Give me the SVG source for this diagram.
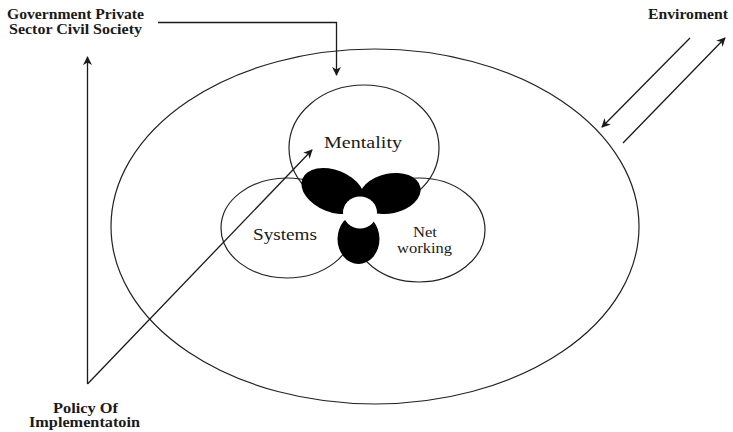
<svg xmlns="http://www.w3.org/2000/svg" width="733" height="432" viewBox="0 0 733 432">
<style>
.ln{fill:none;stroke:#1a1a1a;stroke-width:1.3}
.sh{fill:none;stroke:#222;stroke-width:1.2}
.lb{font-family:"Liberation Serif",serif;font-weight:bold;fill:#1a1a1a}
.tx{font-family:"Liberation Serif",serif;fill:#1a1a1a}
</style>
<defs>
<marker id="ah" viewBox="0 0 10 10" refX="9" refY="5" markerWidth="9" markerHeight="9" markerUnits="userSpaceOnUse" orient="auto">
<path d="M0,0 L10,5 L0,10 L3,5 z" fill="#1a1a1a"/>
</marker>
</defs>
<rect width="733" height="432" fill="#fff"/>
<g id="environment-boundary">
<ellipse class="sh" cx="375" cy="226.5" rx="264" ry="177.5"/>
</g>
<g id="mentality">
<ellipse class="sh" cx="364" cy="148" rx="75" ry="63"/>
<text class="tx" x="324" y="148" font-size="17" textLength="78" lengthAdjust="spacingAndGlyphs">Mentality</text>
</g>
<g id="systems">
<ellipse class="sh" cx="287" cy="228" rx="66" ry="50"/>
<text class="tx" x="253" y="240" font-size="17" textLength="64" lengthAdjust="spacingAndGlyphs">Systems</text>
</g>
<g id="networking">
<ellipse class="sh" cx="419" cy="230" rx="66" ry="52"/>
<text class="tx" x="413" y="237" font-size="15" textLength="24" lengthAdjust="spacingAndGlyphs">Net</text>
<text class="tx" x="397" y="253" font-size="15" textLength="55" lengthAdjust="spacingAndGlyphs">working</text>
</g>
<g id="core">
<ellipse cx="333" cy="191" rx="33" ry="21" transform="rotate(22 333 191)" fill="#000"/>
<ellipse cx="390" cy="193.5" rx="31" ry="20" transform="rotate(-12 390 193.5)" fill="#000"/>
<ellipse cx="358.5" cy="239" rx="21" ry="25" fill="#000"/>
<ellipse cx="360" cy="212.5" rx="17" ry="16" fill="#fff"/>
</g>
<g id="stakeholders">
<text class="lb" x="7" y="19" font-size="14" textLength="137" lengthAdjust="spacingAndGlyphs">Government Private</text>
<text class="lb" x="9" y="34" font-size="14" textLength="133" lengthAdjust="spacingAndGlyphs">Sector Civil Society</text>
</g>
<g id="enviroment">
<text class="lb" x="648" y="19" font-size="14" textLength="80" lengthAdjust="spacingAndGlyphs">Enviroment</text>
</g>
<g id="policy">
<text class="lb" x="53" y="413" font-size="14" textLength="65" lengthAdjust="spacingAndGlyphs">Policy Of</text>
<text class="lb" x="29" y="427" font-size="14" textLength="111" lengthAdjust="spacingAndGlyphs">Implementatoin</text>
</g>
<g id="connectors">
<polyline class="ln" points="158,22.5 336.5,22.5 336.5,75" marker-end="url(#ah)"/>
<line class="ln" x1="87.5" y1="384" x2="87.5" y2="57" marker-end="url(#ah)"/>
<line class="ln" x1="87.5" y1="384" x2="312" y2="150" marker-end="url(#ah)"/>
<line class="ln" x1="690" y1="38" x2="602" y2="127" marker-end="url(#ah)"/>
<line class="ln" x1="623" y1="143" x2="725" y2="38" marker-end="url(#ah)"/>
</g>
</svg>
